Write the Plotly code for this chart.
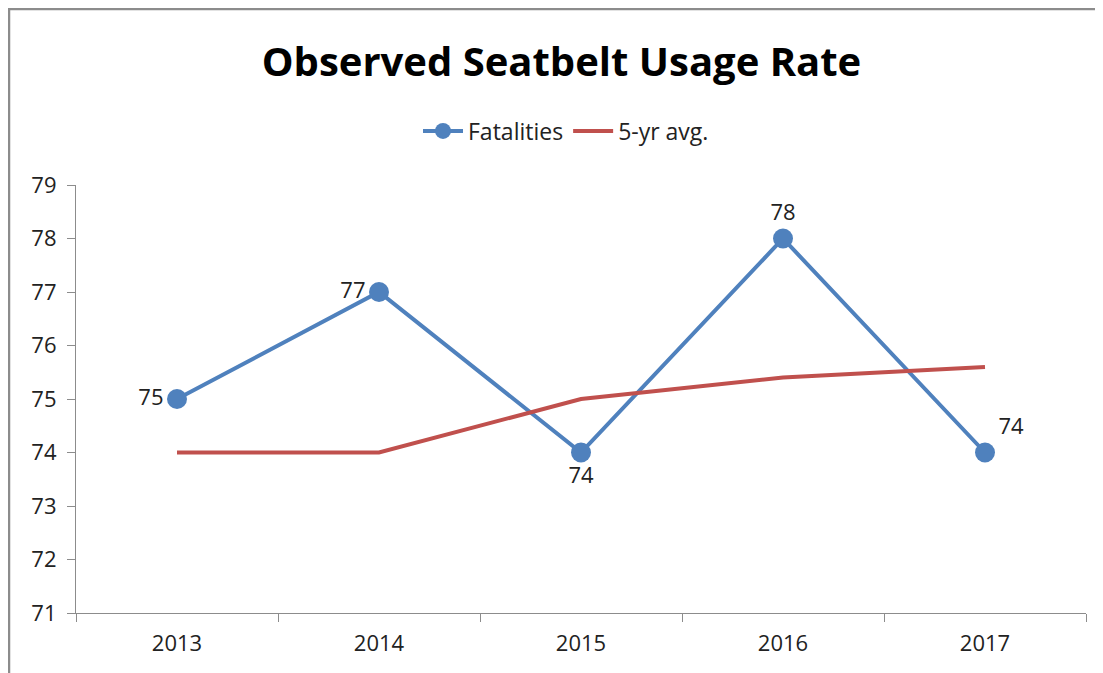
import plotly.graph_objects as go

years = ["2013", "2014", "2015", "2016", "2017"]
fatalities = [75, 77, 74, 78, 74]
avg5 = [74, 74, 75, 75.4, 75.6]
label_pos = ["middle left", "middle left", "bottom center", "top center", "top right"]
y_ticks = [71, 72, 73, 74, 75, 76, 77, 78, 79]

BLUE = "#4F81BD"
RED = "#C0504D"
FONT = "Open Sans"

fig = go.Figure()
fig.add_trace(go.Scatter(
    x=years, y=fatalities, name="Fatalities", mode="lines+markers+text",
    line=dict(color=BLUE, width=4), marker=dict(color=BLUE, size=20),
    text=[str(v) for v in fatalities], textposition=label_pos,
    textfont=dict(family=FONT, size=22, color="#222"), cliponaxis=False,
))
fig.add_trace(go.Scatter(
    x=years, y=avg5, name="5-yr avg.", mode="lines",
    line=dict(color=RED, width=4),
))

# page has an 8px body margin; compensate
OFF = 8
W, H = 1103 - OFF, 673 - OFF
L, R, T, B = 76 - OFF, 17, 185 - OFF, 60
pw, ph = W - L - R, H - T - B

def px_x(p):
    return (p - OFF - L) / pw

def px_y(p):
    return (H - B - (p - OFF)) / ph

fig.update_layout(
    width=W, height=H, autosize=False,
    margin=dict(l=L, r=R, t=T, b=B),
    paper_bgcolor="white", plot_bgcolor="white",
    title=dict(text="<b>Observed Seatbelt Usage Rate</b>", x=px_x(561.5), xref="paper", xanchor="center",
               y=1 - (62 - OFF) / H, yanchor="middle",
               font=dict(family=FONT, size=40, color="black")),
    legend=dict(orientation="h", x=px_x(566), xanchor="center", y=px_y(131), yanchor="middle",
                font=dict(family=FONT, size=23, color="#222"), itemwidth=40),
    xaxis=dict(type="category", range=[-0.5, 4.5], showgrid=False, showline=True,
               linecolor="#8c8c8c", linewidth=1.2, ticks="outside", tickson="boundaries",
               tickcolor="#8c8c8c", ticklen=8, tickfont=dict(family=FONT, size=22, color="#222"),
               ticklabelstandoff=10, fixedrange=True),
    yaxis=dict(range=[71, 79], tickvals=y_ticks, showgrid=False, showline=True,
               linecolor="#8c8c8c", linewidth=1.2, ticks="outside", tickcolor="#8c8c8c",
               ticklen=8, tickfont=dict(family=FONT, size=22, color="#222"), zeroline=False,
               ticklabelstandoff=6),
    shapes=[
        dict(type="line", xref="paper", yref="paper", x0=px_x(9), x1=px_x(9), y0=px_y(7), y1=px_y(680),
             line=dict(color="#8c8c8c", width=2.5)),
        dict(type="line", xref="paper", yref="paper", x0=px_x(7), x1=px_x(1110), y0=px_y(9), y1=px_y(9),
             line=dict(color="#8c8c8c", width=2.5)),
    ],
)

fig.write_html("out.html")
